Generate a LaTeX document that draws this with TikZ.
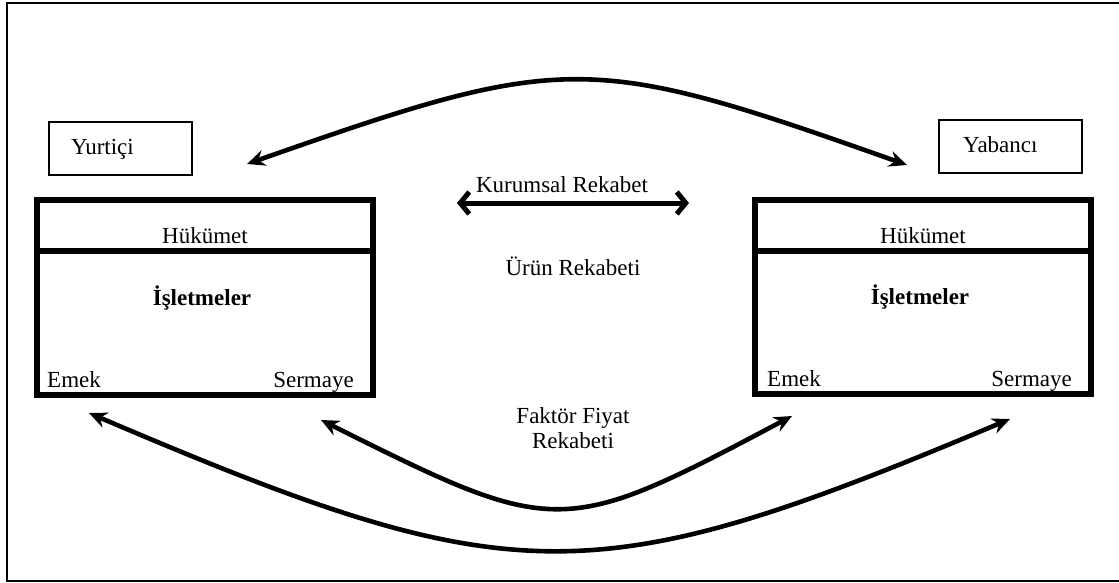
\documentclass[tikz,border=0pt]{standalone}
\usepackage{fontspec}
\setmainfont{Liberation Serif}
\usetikzlibrary{arrows.meta}
\begin{document}
\begin{tikzpicture}[x=1pt,y=-1pt,
  lbl/.style={font=\fontsize{23}{25}\selectfont, inner sep=0pt},
  thinbox/.style={draw, line width=1.4pt},
  thickbox/.style={draw, line width=5.5pt},
  flow/.style={line width=4.6pt,
    {Stealth[length=18pt,width=16pt,inset=6pt]}-{Stealth[length=18pt,width=16pt,inset=6pt]}},
  barb/.style={line width=5pt,
    {Straight Barb[length=9pt,width=22pt]}-{Straight Barb[length=9pt,width=22pt]}}
]
\useasboundingbox (0,0) rectangle (1119,583);

% outer frame (open on the right)
\draw[line width=2.2pt] (1121,3) -- (7,3) -- (7,581) -- (1121,581);

% country labels
\draw[thinbox] (49,122) rectangle (192,175);
\node[lbl, anchor=base west] (yurtici) at (71,155) {Yurtiçi};
\draw[thinbox] (939,120) rectangle (1082,173);
\node[lbl, anchor=base west] (yabanci) at (963,153) {Yabancı};

% domestic economy block
\draw[thickbox] (37,200) rectangle (373,395);
\draw[thickbox] (37,251) -- (373,251);
\node[lbl, anchor=base] (hukL) at (205,243) {Hükümet};
\node[lbl, anchor=base, font=\fontsize{23}{25}\selectfont\bfseries] (islL) at (202,305) {İşletmeler};
\node[lbl, anchor=base west] (emekL) at (47,387) {Emek};
\node[lbl, anchor=base east] (sermL) at (354,387) {Sermaye};

% foreign economy block
\draw[thickbox] (755,200) rectangle (1091,394);
\draw[thickbox] (755,251) -- (1091,251);
\node[lbl, anchor=base] (hukR) at (923,243) {Hükümet};
\node[lbl, anchor=base, font=\fontsize{23}{25}\selectfont\bfseries] (islR) at (920,304) {İşletmeler};
\node[lbl, anchor=base west] (emekR) at (767,386) {Emek};
\node[lbl, anchor=base east] (sermR) at (1072,386) {Sermaye};

% competition labels
\node[lbl, anchor=base] (kurumsal) at (562,193) {Kurumsal Rekabet};
\node[lbl, anchor=base] (urun) at (573,275) {Ürün Rekabeti};
\node[lbl, align=center] (faktor) at (573,428) {Faktör Fiyat\\Rekabeti};

% arrow end points
\coordinate (topL) at (247,164);
\coordinate (topR) at (907,165);
\coordinate (kurL) at (457,203);
\coordinate (kurR) at (689,203);
\coordinate (inL) at (321,420);
\coordinate (inR) at (792,416);
\coordinate (outL) at (89,413);
\coordinate (outR) at (1010,419);

% connectors
\draw[flow] (topL) .. controls (566,52) and (588,52) .. (topR);
\draw[barb] (kurL) -- (kurR);
\draw[flow] (inL) .. controls (557,538) and (562,538) .. (inR);
\draw[flow] (outL) .. controls (515,595) and (592,595) .. (outR);
\end{tikzpicture}
\end{document}
